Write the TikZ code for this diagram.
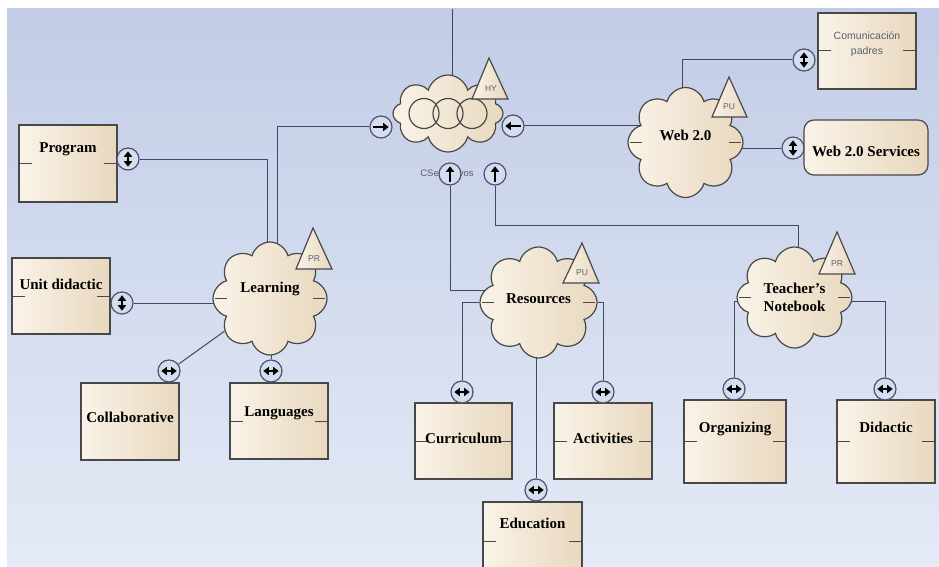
\documentclass[tikz,border=0pt]{standalone}
\usepackage{fontspec}
\setmainfont{Liberation Serif}
\newfontfamily\uisans{Liberation Sans}
\usetikzlibrary{shapes.symbols,arrows.meta,calc,backgrounds}
\definecolor{diagbg0}{RGB}{194,204,230}
\definecolor{diagbg1}{RGB}{228,234,246}
\definecolor{diagline}{RGB}{62,74,100}
\definecolor{diagedge}{RGB}{72,72,72}
\definecolor{diagfill0}{RGB}{250,243,232}
\definecolor{diagfill1}{RGB}{232,216,190}
\definecolor{diagport}{RGB}{74,84,112}
\definecolor{diagportfill}{RGB}{214,221,239}
\definecolor{diagsmall}{RGB}{90,96,110}

\begin{document}
\begin{tikzpicture}[yscale=-1
,conn/.style={color=diagline,line width=1pt}
,elem/.style={draw=diagedge,line width=1.2pt,left color=diagfill0,right color=diagfill1,inner sep=2pt,font=\fontsize{15}{18}\selectfont\bfseries}
,plainbox/.style={elem,rectangle,minimum width=98pt,minimum height=76pt}
,boxstyle/.style={plainbox,path picture={\draw[diagedge,line width=1pt] (path picture bounding box.west) -- ++(13pt,0pt) (path picture bounding box.east) -- ++(-13pt,0pt);}}
,cloudbase/.style={elem,cloud,cloud puffs=8,cloud ignores aspect,minimum width=115pt,minimum height=110pt}
,cloudstyle/.style={cloudbase,path picture={\draw[diagedge,line width=1pt] ([xshift=2pt]path picture bounding box.west) -- ++(12pt,0pt) ([xshift=-2pt]path picture bounding box.east) -- ++(-12pt,0pt);}}
,port/.style={circle,draw=diagport,line width=1.2pt,fill=diagportfill,minimum size=22pt,inner sep=0pt}
,tip/.style={black,line width=1.6pt,>={Triangle[length=5.5pt,width=8pt]}}
,portax/.style n args={3}{port,path picture={\draw[tip,#1] ($(path picture bounding box.center)!.7!(path picture bounding box.#2)$) -- ($(path picture bounding box.center)!.7!(path picture bounding box.#3)$);}}
,trilab/.style={font=\uisans\fontsize{8.5}{9}\selectfont,text=diagsmall,inner sep=0pt}
]
\useasboundingbox (0pt,0pt) rectangle (939pt,567pt);
\begin{pgfonlayer}{background}
\fill[white] (0pt,0pt) rectangle (939pt,567pt);
\shade[top color=diagbg0,bottom color=diagbg1] (7pt,9pt) rectangle (939pt,567pt);
\end{pgfonlayer}
% clouds
\node[cloudbase,minimum width=110pt,minimum height=77pt,path picture={\foreach \dx in {-24,0,24} \draw[diagedge,line width=1.2pt] ([xshift=\dx pt]path picture bounding box.center) circle [radius=15pt];}] (cs) at (448pt,113.5pt) {};
\node[cloudstyle,text depth=14pt] (web) at (685.5pt,142.5pt) {Web 2.0};
\node[cloudstyle,minimum width=114pt,minimum height=113pt,text depth=22pt] (learn) at (270pt,298.5pt) {Learning};
\node[cloudstyle,minimum width=117pt,minimum height=111pt,text depth=7pt] (res) at (538.5pt,302.5pt) {Resources};
\node[cloudstyle,minimum height=101pt,align=center] (tn) at (794.5pt,297.5pt) {Teacher's\\Notebook};
\node[font=\uisans\fontsize{9.5}{11}\selectfont,text=diagsmall] (cslab) at (447pt,173pt) {CSeductivos};
% stereotype triangles
\draw[elem] (472pt,99pt) -- (489pt,58pt) -- (508pt,99pt) -- cycle;
\node[trilab] (tHY) at (491pt,89pt) {HY};
\draw[elem] (712pt,117pt) -- (729pt,77pt) -- (747pt,117pt) -- cycle;
\node[trilab] (tWeb) at (729pt,107pt) {PU};
\draw[elem] (296pt,269pt) -- (313pt,228pt) -- (332pt,269pt) -- cycle;
\node[trilab] (tLearn) at (314pt,259pt) {PR};
\draw[elem] (563pt,283pt) -- (582pt,243pt) -- (599pt,283pt) -- cycle;
\node[trilab] (tRes) at (582pt,273pt) {PU};
\draw[elem] (819pt,274pt) -- (837pt,232pt) -- (855pt,274pt) -- cycle;
\node[trilab] (tTn) at (837pt,264pt) {PR};
% boxes
\node[boxstyle,font=\uisans\fontsize{10.5}{15}\selectfont,text=diagsmall,align=center,text depth=16pt] (com) at (867pt,51pt) {Comunicación\\padres};
\node[elem,rounded corners=10pt,minimum width=124pt,minimum height=55pt,text height=18pt] (ws) at (866pt,147.5pt) {Web 2.0 Services};
\node[boxstyle,minimum height=77pt,text depth=31pt] (prog) at (68pt,163.5pt) {Program};
\node[boxstyle,text depth=24pt] (unit) at (61pt,296pt) {Unit didactic};
\node[plainbox,minimum height=77pt,text depth=9pt] (coll) at (130pt,421.5pt) {Collaborative};
\node[boxstyle,text depth=18pt] (lang) at (279pt,421pt) {Languages};
\node[boxstyle,minimum width=97pt,text depth=6pt] (curr) at (463.5pt,441pt) {Curriculum};
\node[boxstyle,text depth=6pt] (act) at (603pt,441pt) {Activities};
\node[boxstyle,minimum width=99pt,minimum height=78pt,text depth=36pt] (edu) at (532.5pt,541pt) {Education};
\node[boxstyle,minimum width=102pt,minimum height=83pt,text depth=29pt] (org) at (735pt,441.5pt) {Organizing};
\node[boxstyle,minimum height=83pt,text depth=29pt] (did) at (886pt,441.5pt) {Didactic};
% ports
\node[portax={->}{west}{east}] (pCSl) at (381pt,127pt) {};
\node[portax={->}{east}{west}] (pCSr) at (513pt,126pt) {};
\node[portax={->}{south}{north}] (pCSb1) at (450pt,174pt) {};
\node[portax={->}{south}{north}] (pCSb2) at (495pt,174pt) {};
\node[portax={<->}{south}{north}] (pCom) at (804pt,60pt) {};
\node[portax={<->}{south}{north}] (pWS) at (793pt,148pt) {};
\node[portax={<->}{south}{north}] (pProg) at (128pt,159pt) {};
\node[portax={<->}{south}{north}] (pUnit) at (122pt,303pt) {};
\node[portax={<->}{west}{east}] (pColl) at (169pt,371pt) {};
\node[portax={<->}{west}{east}] (pLang) at (271pt,371pt) {};
\node[portax={<->}{west}{east}] (pCurr) at (462pt,392pt) {};
\node[portax={<->}{west}{east}] (pAct) at (603pt,392pt) {};
\node[portax={<->}{west}{east}] (pEdu) at (536pt,490pt) {};
\node[portax={<->}{west}{east}] (pOrg) at (734pt,389pt) {};
\node[portax={<->}{west}{east}] (pDid) at (885pt,389pt) {};
\coordinate (topin) at (452pt,9pt);
% connectors
\begin{pgfonlayer}{background}
\draw[conn] (topin) -- (topin |- cs.center);
\draw[conn] (pCSl) -| ($(learn.center)+(7pt,0pt)$);
\draw[conn] (pProg) -| ($(learn.center)+(-3pt,0pt)$);
\draw[conn] (pUnit) -- (pUnit -| learn.center);
\draw[conn] (pColl) -- (learn);
\draw[conn] (pLang) -- (pLang |- learn.center);
\draw[conn] (pCSr) -- (pCSr -| web.center);
\draw[conn] (pCom) -| ($(web.center)+(-3pt,0pt)$);
\draw[conn] (pWS) -- (pWS -| web.center);
\draw[conn] (pCSb1) |- ($(res.center)+(0pt,-12pt)$);
\draw[conn] (pCSb2) |- ($(tn.center)+(4pt,-72pt)$) -- ($(tn.center)+(4pt,0pt)$);
\draw[conn] (pCurr) |- (res);
\draw[conn] (pAct) |- (res);
\draw[conn] (pEdu) -- (pEdu |- res.center);
\draw[conn] (pOrg) |- ($(tn.center)+(0pt,4pt)$);
\draw[conn] (pDid) |- ($(tn.center)+(0pt,4pt)$);
\end{pgfonlayer}
\end{tikzpicture}
\end{document}
